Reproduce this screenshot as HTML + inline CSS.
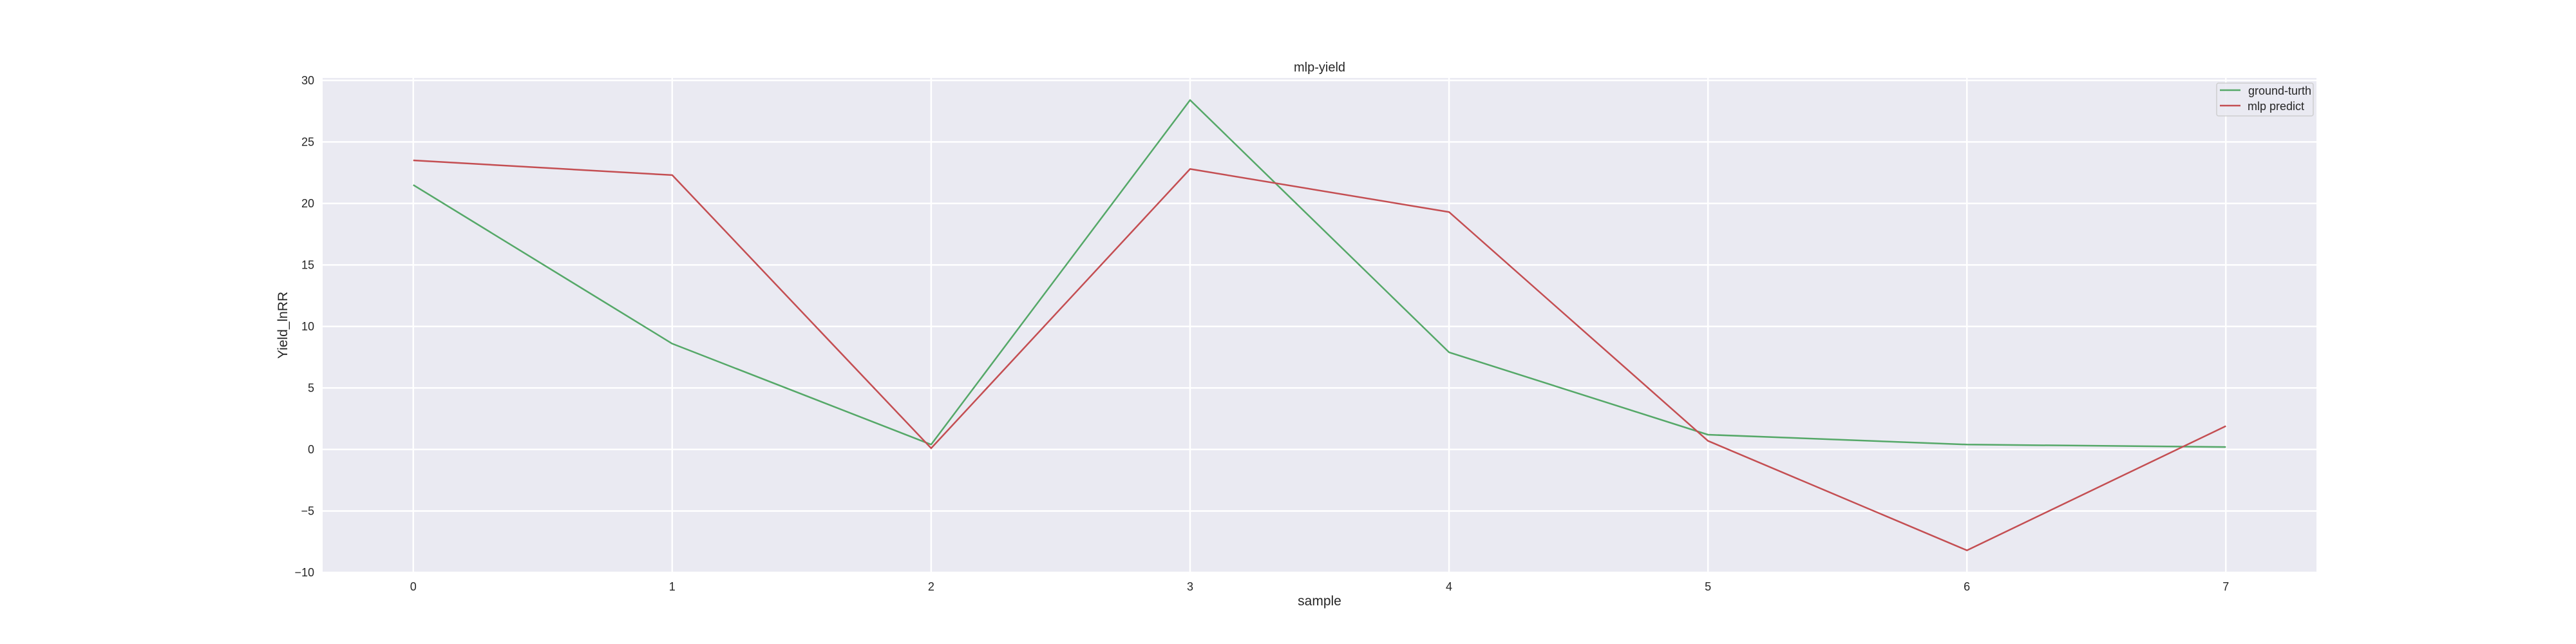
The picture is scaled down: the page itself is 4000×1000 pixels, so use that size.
<!DOCTYPE html>
<html><head><meta charset="utf-8"><style>
body{margin:0;background:#fff}
svg{display:block;font-family:"Liberation Sans","DejaVu Sans",sans-serif}
</style></head><body>
<svg id="chart" width="4000" height="1000" viewBox="0 0 4000 1000" xmlns="http://www.w3.org/2000/svg">
<rect x="501" y="121" width="3096" height="767" fill="#eaeaf2"/>
<g id="grid"></g>
<g id="series"></g>
<g id="ticks"></g>
<text x="2049" y="111" font-size="20" text-anchor="middle" fill="#262626">mlp-yield</text>
<text x="2049" y="940" font-size="21" text-anchor="middle" fill="#262626">sample</text>
<text x="0" y="0" font-size="21" text-anchor="middle" fill="#262626" transform="translate(446,505) rotate(-90)">Yield_lnRR</text>
<g>
<rect x="3442" y="129" width="150" height="51" rx="3" fill="#eaeaf2" stroke="#cccccc" stroke-width="1.5" opacity="0.9"/>
<line x1="3447" y1="140" x2="3479" y2="140" stroke="#55a868" stroke-width="2.5"/>
<text x="3491" y="147" font-size="18" fill="#262626">ground-turth</text>
<line x1="3447" y1="164" x2="3479" y2="164" stroke="#c44e52" stroke-width="2.5"/>
<text x="3490" y="171" font-size="18" fill="#262626">mlp predict</text>
</g>
</svg>
<script>
const categories = [0,1,2,3,4,5,6,7];
const groundTruth = [21.5, 8.6, 0.4, 28.4, 7.9, 1.2, 0.4, 0.2];
const mlpPredict = [23.5, 22.3, 0.1, 22.8, 19.3, 0.7, -8.2, 1.9];
const yTicks = [-10,-5,0,5,10,15,20,25,30];
const yTickLabels = ["\u221210","\u22125","0","5","10","15","20","25","30"];

const NS="http://www.w3.org/2000/svg";
const L=501,R=3597,T=121,B=888;
const xMin=-0.35,xMax=7.35,yMin=-9.95,yMax=30.2;
function xs(v){return L+(v-xMin)/(xMax-xMin)*(R-L);}
function ys(v){return B-(v-yMin)/(yMax-yMin)*(B-T);}
function mk(tag,attrs,parent){const e=document.createElementNS(NS,tag);for(const k in attrs)e.setAttribute(k,attrs[k]);parent.appendChild(e);return e;}
const grid=document.getElementById('grid'),ticks=document.getElementById('ticks'),series=document.getElementById('series');
categories.forEach(c=>{
  const g=mk('line',{x1:xs(c),x2:xs(c),y1:T,y2:B,stroke:'#fff','stroke-width':2.5},grid);
  
  
  const t=mk('text',{x:xs(c),y:917,'font-size':18,'text-anchor':'middle',fill:'#262626'},ticks);
  t.textContent=String(c);
  
  
});
yTicks.forEach((v,i)=>{
  const g=mk('line',{x1:L,x2:R,y1:ys(v),y2:ys(v),stroke:'#fff','stroke-width':2.5},grid);
  
  
  const t=mk('text',{x:488,y:ys(v)+6,'font-size':18,'text-anchor':'end',fill:'#262626'},ticks);
  t.textContent=yTickLabels[i];
  
  
});
function line(vals,color,name){
  const p=mk('polyline',{points:vals.map((v,i)=>xs(categories[i])+','+ys(v)).join(' '),fill:'none',stroke:color,'stroke-width':2.5,'stroke-linejoin':'round'},series);
  
  
}
line(groundTruth,'#55a868','ground-turth-line');
line(mlpPredict,'#c44e52','mlp-predict-line');
</script>
</body></html>
